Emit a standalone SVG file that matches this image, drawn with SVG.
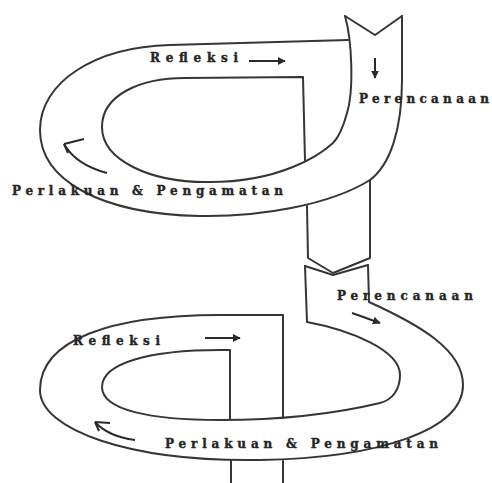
<svg xmlns="http://www.w3.org/2000/svg" width="492" height="483" viewBox="0 0 492 483">
<style>
.ln{fill:none;stroke:#363636;stroke-width:2;stroke-linejoin:round;stroke-linecap:round}
.ar{fill:none;stroke:#2a2a2a;stroke-width:2}
.t{font-family:"DejaVu Serif","Liberation Serif",serif;font-weight:bold;font-size:12px;fill:#262626;stroke:#262626;stroke-width:0.4}
</style>
<defs>
<marker id="h" viewBox="0 0 10 10" refX="9" refY="5" markerWidth="4" markerHeight="4" orient="auto">
<path d="M0,0 L10,5 L0,10 z" fill="#2a2a2a"/>
</marker>
</defs>
<rect width="492" height="483" fill="#fff"/>
<g id="cycle1">
<path class="ln" d="M345,16 L375,35 L402,16"/>
<path class="ln" d="M402,16 L402,80 C402,130 390,165 370,180 C330,205 260,217 200,216 C100,214 40,180 40,130 C40,82 95,47 170,45 L348,40"/>
<path class="ln" d="M345,16 C352,40 354,90 347,113 C343,128 338,138 333,143 C320,155 280,182 210,182 C150,183 102,160 102,127 C102,95 140,78 185,78 L303,77 L305,161"/>
<path class="ln" d="M307,206 L308,258 L333,273 L370,258 L370,180"/>
</g>
<g id="cycle2">
<path class="ln" d="M305,266 L333,275 L368,265"/>
<path class="ln" d="M368,265 L369,302 C420,325 463,350 463,385 C463,430 380,458 260,460 C130,462 40,430 40,390 C40,340 110,315 220,315 L283,315 L283,418"/>
<path class="ln" d="M305,266 L307,322 C350,330 400,350 400,375 C400,390 392,400 380,403 C330,415 280,420 220,420 C150,420 102,410 102,387 C102,363 150,350 220,350 L230,350 L230,420"/>
<path class="ln" d="M231,461 L231,483 M283,461 L283,483"/>
</g>
<g id="connectors">
<path class="ar" d="M249,61 L285,61" marker-end="url(#h)"/>
<path class="ar" d="M375,58 L375,78" marker-end="url(#h)"/>
<path class="ar" d="M107,173 C88,168 72,158 64,144"/>
<path class="ar" d="M64,144 L84,139 M64,144 L68,153"/>
<path class="ar" d="M352,313 L380,323" marker-end="url(#h)"/>
<path class="ar" d="M205,338 L240,338" marker-end="url(#h)"/>
<path class="ar" d="M135,440 C120,438 104,432 95,422"/>
<path class="ar" d="M95,422 L110,423 M95,422 L99,431"/>
</g>
<g id="labels">
<text class="t" x="150" y="62" textLength="88" lengthAdjust="spacing">Refleksi</text>
<text class="t" x="359" y="103" textLength="130" lengthAdjust="spacing">Perencanaan</text>
<text class="t" x="12" y="195" textLength="271" lengthAdjust="spacing">Perlakuan &amp; Pengamatan</text>
<text class="t" x="337" y="300" textLength="136" lengthAdjust="spacing">Perencanaan</text>
<text class="t" x="73" y="345" textLength="87" lengthAdjust="spacing">Refleksi</text>
<text class="t" x="165" y="448" textLength="273" lengthAdjust="spacing">Perlakuan &amp; Pengamatan</text>
</g>
</svg>
